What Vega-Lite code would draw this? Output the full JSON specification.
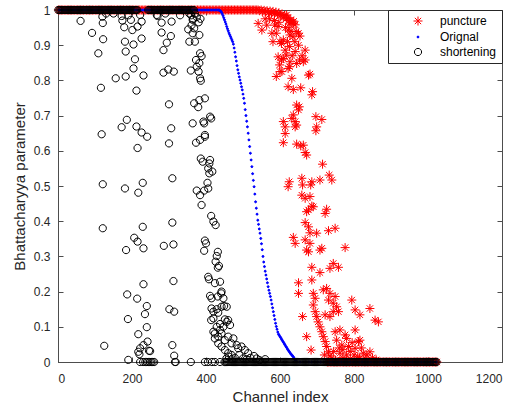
{
"$schema":"https://vega.github.io/schema/vega-lite/v6.json",
"width":444,"height":352,
"autosize":{"type":"none"},
"padding":{"left":58,"top":10,"right":24,"bottom":45},
"config":{
 "view":{"stroke":"#4d4d4d","strokeWidth":1},
 "axis":{"domainColor":"#4d4d4d","tickColor":"#4d4d4d","labelColor":"#262626","titleColor":"#262626","labelFont":"Liberation Sans","titleFont":"Liberation Sans","labelFontSize":12,"titleFontSize":15,"titleFontWeight":"normal","grid":false,"tickSize":-5},
 "legend":{"orient":"top-right","offset":0,"strokeColor":"#262626","fillColor":"white","padding":5,"rowPadding":3,"symbolOffset":19,"labelOffset":16,"labelFontSize":12,"labelFont":"Liberation Sans","labelColor":"#000000","symbolStrokeWidth":1,"symbolSize":81}
},
"datasets":{
"puncture":[
{"x":1,"y":1},{"x":5,"y":1},{"x":9,"y":1},{"x":13,"y":1},{"x":17,"y":1},{"x":21,"y":1},{"x":25,"y":1},{"x":29,"y":1},{"x":33,"y":1},{"x":37,"y":1},{"x":41,"y":1},{"x":45,"y":1},{"x":49,"y":1},{"x":53,"y":1},{"x":57,"y":1},{"x":61,"y":1},{"x":65,"y":1},{"x":69,"y":1},{"x":73,"y":1},{"x":77,"y":1},{"x":81,"y":1},{"x":85,"y":1},{"x":89,"y":1},{"x":93,"y":1},{"x":97,"y":1},{"x":101,"y":1},{"x":105,"y":1},{"x":109,"y":1},{"x":113,"y":1},{"x":117,"y":1},{"x":121,"y":1},{"x":125,"y":1},{"x":129,"y":1},{"x":133,"y":1},{"x":137,"y":1},{"x":141,"y":1},{"x":145,"y":1},{"x":149,"y":1},{"x":153,"y":1},{"x":157,"y":1},{"x":161,"y":1},{"x":165,"y":1},{"x":169,"y":1},{"x":173,"y":1},{"x":177,"y":1},{"x":181,"y":1},{"x":185,"y":1},{"x":189,"y":1},{"x":193,"y":1},{"x":197,"y":1},{"x":201,"y":1},{"x":205,"y":1},{"x":209,"y":1},{"x":213,"y":1},{"x":217,"y":1},{"x":221,"y":1},{"x":225,"y":1},{"x":229,"y":1},{"x":233,"y":1},{"x":237,"y":1},{"x":241,"y":1},{"x":245,"y":1},{"x":249,"y":1},{"x":253,"y":1},{"x":257,"y":1},{"x":261,"y":1},{"x":265,"y":1},{"x":269,"y":1},{"x":273,"y":1},{"x":277,"y":1},{"x":281,"y":1},{"x":285,"y":1},{"x":289,"y":1},{"x":293,"y":1},{"x":297,"y":1},{"x":301,"y":1},{"x":305,"y":1},{"x":309,"y":1},{"x":313,"y":1},{"x":317,"y":1},{"x":321,"y":1},{"x":325,"y":1},{"x":329,"y":1},{"x":333,"y":1},{"x":337,"y":1},{"x":341,"y":1},{"x":345,"y":1},{"x":349,"y":1},{"x":353,"y":1},{"x":357,"y":1},{"x":361,"y":1},{"x":365,"y":1},{"x":369,"y":1},{"x":373,"y":1},{"x":377,"y":1},{"x":381,"y":1},{"x":385,"y":1},{"x":389,"y":1},{"x":393,"y":1},{"x":397,"y":1},{"x":401,"y":1},{"x":405,"y":1},{"x":409,"y":1},{"x":413,"y":1},{"x":417,"y":1},{"x":421,"y":1},{"x":425,"y":1},{"x":429,"y":1},{"x":433,"y":1},{"x":437,"y":1},{"x":441,"y":1},{"x":445,"y":1},{"x":449,"y":1},{"x":453,"y":1},{"x":457,"y":1},{"x":461,"y":1},{"x":465,"y":1},{"x":469,"y":1},{"x":473,"y":1},{"x":477,"y":1},{"x":481,"y":1},{"x":485,"y":1},{"x":489,"y":1},{"x":493,"y":1},{"x":497,"y":1},{"x":501,"y":1},{"x":505,"y":1},{"x":509,"y":1},{"x":513,"y":1},{"x":517,"y":1},{"x":521,"y":1},{"x":525,"y":1},{"x":529,"y":1},{"x":533,"y":1},{"x":537,"y":1},
{"x":541,"y":1},{"x":545,"y":0.998},{"x":549,"y":1},{"x":553,"y":0.996},{"x":557,"y":0.999},{"x":561,"y":0.995},{"x":565,"y":0.998},{"x":569,"y":0.993},{"x":573,"y":0.997},{"x":577,"y":0.992},{"x":581,"y":0.996},{"x":585,"y":0.99},{"x":589,"y":0.994},{"x":593,"y":0.988},{"x":597,"y":0.992},{"x":601,"y":0.985},{"x":605,"y":0.988},{"x":609,"y":0.98},{"x":613,"y":0.984},{"x":617,"y":0.975},{"x":621,"y":0.978},{"x":625,"y":0.97},{"x":629,"y":0.972},{"x":633,"y":0.965},{"x":637,"y":0.968},{"x":641,"y":0.958},
{"x":541,"y":0.962},{"x":551,"y":0.943},{"x":560,"y":0.975},{"x":564,"y":0.957},{"x":572,"y":0.975},{"x":578,"y":0.934},{"x":585,"y":0.97},{"x":586,"y":0.957},{"x":590,"y":0.934},{"x":595,"y":0.953},{"x":597,"y":0.965},{"x":581,"y":0.91},{"x":600,"y":0.91},{"x":604,"y":0.905},{"x":595,"y":0.867},{"x":604,"y":0.858},{"x":599,"y":0.844},{"x":590,"y":0.811},{"x":600,"y":0.825},
{"x":618,"y":0.986},{"x":636,"y":0.962},{"x":650,"y":0.934},{"x":654,"y":0.926},{"x":627,"y":0.929},{"x":609,"y":0.915},{"x":668,"y":0.886},{"x":641,"y":0.882},{"x":614,"y":0.886},{"x":609,"y":0.862},{"x":627,"y":0.853},{"x":645,"y":0.848},{"x":663,"y":0.853},{"x":668,"y":0.858},{"x":622,"y":0.834},{"x":605,"y":0.825},{"x":677,"y":0.815},{"x":681,"y":0.818},{"x":632,"y":0.806},{"x":622,"y":0.782},{"x":636,"y":0.774},{"x":656,"y":0.779},{"x":688,"y":0.768},{"x":686,"y":0.759},{"x":645,"y":0.73},{"x":652,"y":0.725},{"x":650,"y":0.716},{"x":636,"y":0.702},{"x":632,"y":0.692},{"x":641,"y":0.683},{"x":609,"y":0.683},{"x":614,"y":0.668},{"x":641,"y":0.668},{"x":645,"y":0.673},{"x":697,"y":0.697},{"x":713,"y":0.689},{"x":699,"y":0.668},{"x":697,"y":0.657},{"x":614,"y":0.649},{"x":609,"y":0.623},{"x":645,"y":0.619},{"x":656,"y":0.614},{"x":663,"y":0.616},{"x":668,"y":0.595},{"x":672,"y":0.588},{"x":715,"y":0.562},{"x":733,"y":0.531},{"x":740,"y":0.517},{"x":708,"y":0.517},{"x":686,"y":0.512},{"x":683,"y":0.503},{"x":659,"y":0.522},{"x":661,"y":0.503},{"x":625,"y":0.512},{"x":622,"y":0.498},
{"x":625,"y":0.96},{"x":615,"y":0.95},{"x":630,"y":0.94},{"x":620,"y":0.91},{"x":640,"y":0.91},{"x":650,"y":0.9},{"x":660,"y":0.87},{"x":633,"y":0.87},{"x":622,"y":0.943},{"x":644,"y":0.939},{"x":635,"y":0.924},{"x":626,"y":0.896},{"x":617,"y":0.872},{"x":653,"y":0.858},{"x":626,"y":0.839},
{"x":659,"y":0.474},{"x":668,"y":0.465},{"x":681,"y":0.47},{"x":686,"y":0.443},{"x":677,"y":0.432},{"x":672,"y":0.427},{"x":690,"y":0.441},{"x":726,"y":0.434},{"x":722,"y":0.422},{"x":668,"y":0.396},{"x":677,"y":0.384},{"x":681,"y":0.367},{"x":699,"y":0.366},{"x":731,"y":0.373},{"x":749,"y":0.38},{"x":636,"y":0.354},{"x":641,"y":0.337},{"x":668,"y":0.347},{"x":672,"y":0.318},{"x":677,"y":0.313},{"x":681,"y":0.337},{"x":708,"y":0.318},{"x":713,"y":0.323},{"x":776,"y":0.325},{"x":686,"y":0.269},{"x":708,"y":0.254},{"x":735,"y":0.266},{"x":744,"y":0.28},{"x":758,"y":0.269},{"x":650,"y":0.225},{"x":650,"y":0.195},{"x":686,"y":0.233},{"x":690,"y":0.195},{"x":695,"y":0.181},{"x":717,"y":0.205},{"x":726,"y":0.209},{"x":735,"y":0.195},{"x":749,"y":0.186},{"x":794,"y":0.176},{"x":690,"y":0.162},{"x":695,"y":0.143},{"x":699,"y":0.129},{"x":703,"y":0.114},{"x":708,"y":0.1},{"x":713,"y":0.086},{"x":717,"y":0.072},{"x":722,"y":0.058},{"x":726,"y":0.044},{"x":731,"y":0.029},{"x":735,"y":0.017},{"x":661,"y":0.129},{"x":722,"y":0.134},{"x":735,"y":0.129},{"x":744,"y":0.143},{"x":753,"y":0.157},{"x":758,"y":0.143},{"x":731,"y":0.176},{"x":744,"y":0.167},{"x":672,"y":0.072},{"x":684,"y":0.034},{"x":749,"y":0.086},{"x":762,"y":0.091},{"x":776,"y":0.077},{"x":780,"y":0.067},{"x":803,"y":0.091},{"x":812,"y":0.058},{"x":816,"y":0.062},{"x":753,"y":0.062},{"x":767,"y":0.048},{"x":785,"y":0.044},{"x":803,"y":0.039},{"x":825,"y":0.025},{"x":843,"y":0.029},{"x":762,"y":0.025},{"x":780,"y":0.02},{"x":803,"y":0.148},{"x":816,"y":0.134},{"x":843,"y":0.152},{"x":857,"y":0.119},{"x":866,"y":0.114},
{"x":740,"y":0.01},{"x":750,"y":0.005},{"x":770,"y":0.012},{"x":790,"y":0.008},{"x":810,"y":0.015},{"x":830,"y":0.01},{"x":850,"y":0.012},{"x":860,"y":0.006},{"x":720,"y":0.02},{"x":745,"y":0.03},{"x":760,"y":0.04},{"x":790,"y":0.03},{"x":770,"y":0.035},{"x":795,"y":0.055},{"x":820,"y":0.04},{"x":835,"y":0.02},{"x":800,"y":0.02},{"x":815,"y":0.01},
{"x":728,"y":0},{"x":732,"y":0},{"x":736,"y":0},{"x":740,"y":0},{"x":744,"y":0},{"x":748,"y":0},{"x":752,"y":0},{"x":756,"y":0},{"x":760,"y":0},{"x":764,"y":0},{"x":768,"y":0},{"x":772,"y":0},{"x":776,"y":0},{"x":780,"y":0},{"x":784,"y":0},{"x":788,"y":0},{"x":792,"y":0},{"x":796,"y":0},{"x":800,"y":0},{"x":804,"y":0},{"x":808,"y":0},{"x":812,"y":0},{"x":816,"y":0},{"x":820,"y":0},{"x":824,"y":0},{"x":828,"y":0},{"x":832,"y":0},{"x":836,"y":0},{"x":840,"y":0},{"x":844,"y":0},{"x":848,"y":0},{"x":852,"y":0},{"x":856,"y":0},{"x":860,"y":0},{"x":864,"y":0},{"x":868,"y":0},{"x":872,"y":0},{"x":876,"y":0},{"x":880,"y":0},{"x":884,"y":0},{"x":888,"y":0},{"x":892,"y":0},{"x":896,"y":0},{"x":900,"y":0},{"x":904,"y":0},{"x":908,"y":0},{"x":912,"y":0},{"x":916,"y":0},{"x":920,"y":0},{"x":924,"y":0},{"x":928,"y":0},{"x":932,"y":0},{"x":936,"y":0},{"x":940,"y":0},{"x":944,"y":0},{"x":948,"y":0},{"x":952,"y":0},{"x":956,"y":0},{"x":960,"y":0},{"x":964,"y":0},{"x":968,"y":0},{"x":972,"y":0},{"x":976,"y":0},{"x":980,"y":0},{"x":984,"y":0},{"x":988,"y":0},{"x":992,"y":0},{"x":996,"y":0},{"x":1000,"y":0},{"x":1004,"y":0},{"x":1008,"y":0},{"x":1012,"y":0},{"x":1016,"y":0},{"x":1020,"y":0},{"x":1024,"y":0}
],
"orignal":[
{"x":3,"y":1},{"x":7,"y":1},{"x":11,"y":1},{"x":15,"y":1},{"x":19,"y":1},{"x":23,"y":1},{"x":27,"y":1},{"x":31,"y":1},{"x":35,"y":1},{"x":39,"y":1},{"x":43,"y":1},{"x":47,"y":1},{"x":51,"y":1},{"x":55,"y":1},{"x":59,"y":1},{"x":63,"y":1},{"x":67,"y":1},{"x":71,"y":1},{"x":75,"y":1},{"x":79,"y":1},{"x":83,"y":1},{"x":87,"y":1},{"x":91,"y":1},{"x":95,"y":1},{"x":99,"y":1},{"x":103,"y":1},{"x":107,"y":1},{"x":111,"y":1},{"x":115,"y":1},{"x":119,"y":1},{"x":123,"y":1},{"x":127,"y":1},{"x":131,"y":1},{"x":135,"y":1},{"x":139,"y":1},{"x":143,"y":1},{"x":147,"y":1},{"x":151,"y":1},{"x":155,"y":1},{"x":159,"y":1},{"x":163,"y":1},{"x":167,"y":1},{"x":171,"y":1},{"x":175,"y":1},{"x":179,"y":1},{"x":183,"y":1},{"x":187,"y":1},{"x":191,"y":1},{"x":195,"y":1},{"x":199,"y":1},{"x":203,"y":1},{"x":207,"y":1},{"x":211,"y":1},{"x":215,"y":1},{"x":219,"y":1},{"x":223,"y":1},{"x":227,"y":1},{"x":231,"y":1},{"x":235,"y":1},{"x":239,"y":1},{"x":243,"y":1},{"x":247,"y":1},{"x":251,"y":1},{"x":255,"y":1},{"x":259,"y":1},{"x":263,"y":1},{"x":267,"y":1},{"x":271,"y":1},{"x":275,"y":1},{"x":279,"y":1},{"x":283,"y":1},{"x":287,"y":1},{"x":291,"y":1},{"x":295,"y":1},{"x":299,"y":1},{"x":303,"y":1},{"x":307,"y":1},{"x":311,"y":1},{"x":315,"y":1},{"x":319,"y":1},{"x":323,"y":1},{"x":327,"y":1},{"x":331,"y":1},{"x":335,"y":1},{"x":339,"y":1},{"x":343,"y":1},{"x":347,"y":1},{"x":351,"y":1},{"x":355,"y":1},{"x":359,"y":1},{"x":363,"y":1},{"x":367,"y":1},{"x":371,"y":1},{"x":375,"y":1},{"x":379,"y":1},{"x":383,"y":1},{"x":387,"y":1},{"x":391,"y":1},{"x":395,"y":1},{"x":399,"y":1},{"x":403,"y":1},{"x":407,"y":1},{"x":411,"y":1},{"x":415,"y":1},{"x":419,"y":1},{"x":423,"y":1},{"x":427,"y":1},{"x":431,"y":1},{"x":435,"y":1},
{"x":436,"y":0.999},{"x":438,"y":0.998},{"x":440,"y":0.996},{"x":442,"y":0.993},{"x":444,"y":0.989},{"x":446,"y":0.984},{"x":448,"y":0.978},{"x":450,"y":0.972},{"x":452,"y":0.966},{"x":454,"y":0.96},{"x":456,"y":0.953},{"x":458,"y":0.947},{"x":460,"y":0.941},{"x":462,"y":0.935},{"x":464,"y":0.93},{"x":466,"y":0.925},{"x":468,"y":0.92},{"x":470,"y":0.915},{"x":472,"y":0.91},{"x":474,"y":0.903},{"x":476,"y":0.892},{"x":478,"y":0.88},{"x":480,"y":0.867},{"x":482,"y":0.855},{"x":484,"y":0.842},{"x":486,"y":0.83},{"x":488,"y":0.82},{"x":490,"y":0.81},{"x":492,"y":0.801},{"x":494,"y":0.792},{"x":496,"y":0.782},{"x":498,"y":0.773},{"x":500,"y":0.761},{"x":502,"y":0.749},{"x":504,"y":0.735},{"x":506,"y":0.717},{"x":508,"y":0.7},{"x":510,"y":0.684},{"x":512,"y":0.668},{"x":514,"y":0.65},{"x":516,"y":0.631},{"x":518,"y":0.612},{"x":520,"y":0.593},{"x":522,"y":0.574},{"x":524,"y":0.555},{"x":526,"y":0.535},{"x":528,"y":0.516},{"x":530,"y":0.498},{"x":532,"y":0.477},{"x":534,"y":0.455},{"x":536,"y":0.437},{"x":538,"y":0.42},{"x":540,"y":0.403},{"x":542,"y":0.391},{"x":544,"y":0.378},{"x":546,"y":0.366},{"x":548,"y":0.351},{"x":550,"y":0.336},{"x":552,"y":0.319},{"x":554,"y":0.3},{"x":556,"y":0.284},{"x":558,"y":0.271},{"x":560,"y":0.258},{"x":562,"y":0.247},{"x":564,"y":0.236},{"x":566,"y":0.225},{"x":568,"y":0.214},{"x":570,"y":0.204},{"x":572,"y":0.195},{"x":574,"y":0.186},{"x":576,"y":0.176},{"x":578,"y":0.165},{"x":580,"y":0.154},{"x":582,"y":0.143},{"x":584,"y":0.132},{"x":586,"y":0.121},{"x":588,"y":0.11},{"x":590,"y":0.101},{"x":592,"y":0.093},{"x":594,"y":0.085},{"x":596,"y":0.079},{"x":598,"y":0.076},{"x":600,"y":0.072},{"x":602,"y":0.069},{"x":604,"y":0.065},{"x":606,"y":0.062},{"x":608,"y":0.058},{"x":610,"y":0.055},{"x":612,"y":0.051},{"x":614,"y":0.048},{"x":616,"y":0.044},{"x":618,"y":0.041},{"x":620,"y":0.037},{"x":622,"y":0.034},{"x":624,"y":0.031},{"x":626,"y":0.028},{"x":628,"y":0.025},{"x":630,"y":0.022},{"x":632,"y":0.02},{"x":634,"y":0.017},{"x":636,"y":0.015},{"x":638,"y":0.011},{"x":640,"y":0.008},{"x":642,"y":0.005},{"x":644,"y":0.002},{"x":646,"y":0},
{"x":654,"y":0},{"x":662,"y":0},{"x":670,"y":0},{"x":678,"y":0},{"x":686,"y":0},{"x":694,"y":0},{"x":702,"y":0},{"x":710,"y":0},{"x":718,"y":0},{"x":726,"y":0},{"x":734,"y":0},{"x":742,"y":0},{"x":750,"y":0},{"x":758,"y":0},{"x":766,"y":0},{"x":774,"y":0},{"x":782,"y":0},{"x":790,"y":0},{"x":798,"y":0},{"x":806,"y":0},{"x":814,"y":0},{"x":822,"y":0},{"x":830,"y":0},{"x":838,"y":0},{"x":846,"y":0},{"x":854,"y":0},{"x":862,"y":0},{"x":870,"y":0},{"x":878,"y":0},{"x":886,"y":0},{"x":894,"y":0},{"x":902,"y":0},{"x":910,"y":0},{"x":918,"y":0},{"x":926,"y":0},{"x":934,"y":0},{"x":942,"y":0},{"x":950,"y":0},{"x":958,"y":0},{"x":966,"y":0},{"x":974,"y":0},{"x":982,"y":0},{"x":990,"y":0},{"x":998,"y":0},{"x":1006,"y":0},{"x":1014,"y":0},{"x":1022,"y":0}
],
"shortening":[
{"x":1,"y":1},{"x":4,"y":1},{"x":7,"y":1},{"x":10,"y":1},{"x":13,"y":1},{"x":16,"y":1},{"x":19,"y":1},{"x":22,"y":1},{"x":25,"y":1},{"x":28,"y":1},{"x":31,"y":1},{"x":34,"y":1},{"x":37,"y":1},{"x":40,"y":1},{"x":43,"y":1},{"x":46,"y":1},{"x":49,"y":1},{"x":52,"y":1},{"x":55,"y":1},{"x":58,"y":1},{"x":61,"y":1},{"x":64,"y":1},{"x":67,"y":1},{"x":70,"y":1},{"x":73,"y":1},{"x":76,"y":1},{"x":79,"y":1},{"x":82,"y":1},{"x":85,"y":1},{"x":88,"y":1},{"x":91,"y":1},{"x":94,"y":1},{"x":97,"y":1},{"x":100,"y":1},{"x":103,"y":1},{"x":106,"y":1},{"x":109,"y":1},{"x":112,"y":1},{"x":115,"y":1},{"x":118,"y":1},{"x":121,"y":1},{"x":124,"y":1},{"x":127,"y":1},{"x":130,"y":1},{"x":133,"y":1},{"x":136,"y":1},{"x":139,"y":1},{"x":142,"y":1},{"x":145,"y":1},{"x":148,"y":1},{"x":151,"y":1},{"x":154,"y":1},{"x":157,"y":1},{"x":160,"y":1},{"x":163,"y":1},{"x":166,"y":1},{"x":169,"y":1},{"x":172,"y":1},{"x":175,"y":1},{"x":178,"y":1},{"x":181,"y":1},{"x":184,"y":1},{"x":187,"y":1},{"x":190,"y":1},{"x":193,"y":1},{"x":196,"y":1},{"x":199,"y":1},{"x":202,"y":1},{"x":205,"y":1},{"x":208,"y":1},{"x":211,"y":1},{"x":214,"y":1},
{"x":244,"y":1},{"x":247,"y":1},{"x":250,"y":1},{"x":253,"y":1},{"x":256,"y":1},{"x":259,"y":1},{"x":262,"y":1},{"x":265,"y":1},{"x":268,"y":1},{"x":271,"y":1},{"x":274,"y":1},{"x":277,"y":1},{"x":280,"y":1},{"x":283,"y":1},{"x":286,"y":1},{"x":289,"y":1},{"x":292,"y":1},{"x":295,"y":1},{"x":298,"y":1},{"x":301,"y":1},{"x":304,"y":1},{"x":307,"y":1},{"x":310,"y":1},{"x":313,"y":1},{"x":316,"y":1},{"x":319,"y":1},{"x":322,"y":1},{"x":325,"y":1},{"x":328,"y":1},{"x":331,"y":1},{"x":334,"y":1},{"x":337,"y":1},{"x":340,"y":1},{"x":343,"y":1},{"x":346,"y":1},{"x":349,"y":1},{"x":352,"y":1},{"x":355,"y":1},{"x":358,"y":1},{"x":361,"y":1},{"x":364,"y":1},{"x":367,"y":1},
{"x":355,"y":0.99},{"x":360,"y":0.985},{"x":365,"y":0.975},{"x":370,"y":0.99},{"x":375,"y":0.98},{"x":380,"y":0.965},{"x":385,"y":0.975},
{"x":120,"y":0.981},{"x":172,"y":0.983},{"x":222,"y":0.986},{"x":267,"y":0.986},{"x":130,"y":0.99},{"x":150,"y":0.99},{"x":190,"y":0.985},{"x":290,"y":0.99},{"x":330,"y":0.985},
{"x":61,"y":0.969},{"x":92,"y":0.935},{"x":121,"y":0.963},{"x":122,"y":0.917},{"x":109,"y":0.877},{"x":116,"y":0.779},{"x":118,"y":0.647},{"x":121,"y":0.505},{"x":121,"y":0.38},{"x":125,"y":0.046},
{"x":174,"y":0.97},{"x":197,"y":0.972},{"x":179,"y":0.951},{"x":201,"y":0.943},{"x":215,"y":0.953},{"x":226,"y":0.967},{"x":181,"y":0.91},{"x":204,"y":0.902},{"x":226,"y":0.919},{"x":183,"y":0.882},{"x":208,"y":0.86},{"x":204,"y":0.834},{"x":156,"y":0.806},{"x":183,"y":0.811},{"x":231,"y":0.814},{"x":212,"y":0.771},{"x":172,"y":0.667},{"x":186,"y":0.688},{"x":212,"y":0.669},{"x":226,"y":0.652},{"x":241,"y":0.64},{"x":215,"y":0.608},{"x":181,"y":0.493},{"x":229,"y":0.509},{"x":217,"y":0.481},
{"x":269,"y":0.983},{"x":280,"y":0.964},{"x":307,"y":0.967},{"x":280,"y":0.936},{"x":305,"y":0.926},{"x":294,"y":0.907},{"x":285,"y":0.886},{"x":285,"y":0.822},{"x":298,"y":0.831},{"x":313,"y":0.825},{"x":300,"y":0.732},{"x":306,"y":0.664},{"x":300,"y":0.621},{"x":309,"y":0.522},
{"x":352,"y":0.945},{"x":364,"y":0.934},{"x":368,"y":0.948},{"x":382,"y":0.929},{"x":355,"y":0.91},{"x":370,"y":0.91},{"x":361,"y":0.957},{"x":364,"y":0.972},{"x":384,"y":0.877},{"x":388,"y":0.869},{"x":373,"y":0.858},{"x":382,"y":0.849},{"x":375,"y":0.839},{"x":359,"y":0.828},{"x":380,"y":0.825},{"x":384,"y":0.806},{"x":386,"y":0.799},{"x":368,"y":0.735},{"x":382,"y":0.744},{"x":397,"y":0.749},{"x":379,"y":0.724},{"x":364,"y":0.678},{"x":393,"y":0.683},{"x":414,"y":0.692},{"x":395,"y":0.678},{"x":373,"y":0.623},{"x":384,"y":0.631},{"x":397,"y":0.64},{"x":386,"y":0.578},{"x":411,"y":0.574},{"x":391,"y":0.569},{"x":409,"y":0.564},{"x":406,"y":0.55},{"x":417,"y":0.541},{"x":409,"y":0.536},{"x":375,"y":0.487},{"x":384,"y":0.474},{"x":395,"y":0.487},{"x":404,"y":0.509},{"x":411,"y":0.697},{"x":397,"y":0.645},
{"x":229,"y":0.384},{"x":206,"y":0.353},{"x":184,"y":0.318},{"x":215,"y":0.342},{"x":231,"y":0.323},{"x":187,"y":0.192},{"x":231,"y":0.221},{"x":214,"y":0.18},{"x":240,"y":0.159},{"x":235,"y":0.136},{"x":189,"y":0.122},{"x":240,"y":0.099},{"x":217,"y":0.079},{"x":242,"y":0.058},{"x":222,"y":0.039},{"x":231,"y":0.048},{"x":249,"y":0.031},{"x":220,"y":0.022},{"x":190,"y":0.006},{"x":246,"y":0.032},{"x":217,"y":0.029},
{"x":222,"y":0},{"x":230,"y":0},{"x":236,"y":0},{"x":240,"y":0},{"x":244,"y":0},{"x":248,"y":0},{"x":252,"y":0},{"x":256,"y":0},{"x":260,"y":0},
{"x":309,"y":0.396},{"x":312,"y":0.334},{"x":286,"y":0.33},{"x":312,"y":0.23},{"x":301,"y":0.15},{"x":314,"y":0.143},{"x":309,"y":0.048},{"x":314,"y":0.018},{"x":316,"y":0},{"x":318,"y":0},{"x":359,"y":0},
{"x":406,"y":0.493},{"x":388,"y":0.446},{"x":414,"y":0.415},{"x":420,"y":0.399},{"x":426,"y":0.389},{"x":397,"y":0.345},{"x":400,"y":0.337},{"x":395,"y":0.316},{"x":432,"y":0.313},{"x":429,"y":0.301},{"x":426,"y":0.285},{"x":435,"y":0.273},{"x":432,"y":0.268},{"x":406,"y":0.242},{"x":408,"y":0.235},{"x":424,"y":0.224},{"x":438,"y":0.228},{"x":442,"y":0.2},{"x":411,"y":0.188},{"x":415,"y":0.181},{"x":432,"y":0.186},{"x":441,"y":0.195},{"x":447,"y":0.181},{"x":456,"y":0.157},{"x":449,"y":0.159},{"x":415,"y":0.152},{"x":420,"y":0.143},{"x":429,"y":0.15},{"x":433,"y":0.14},{"x":442,"y":0.157},{"x":451,"y":0.121},{"x":456,"y":0.114},{"x":460,"y":0.119},{"x":465,"y":0.105},{"x":447,"y":0.1},{"x":438,"y":0.108},{"x":420,"y":0.124},{"x":414,"y":0.119},{"x":424,"y":0.081},{"x":433,"y":0.072},{"x":442,"y":0.081},{"x":451,"y":0.062},{"x":460,"y":0.072},{"x":474,"y":0.067},{"x":469,"y":0.053},{"x":483,"y":0.048},{"x":487,"y":0.039},{"x":496,"y":0.044},{"x":505,"y":0.034},{"x":514,"y":0.025},{"x":530,"y":0.017},{"x":537,"y":0.01},{"x":429,"y":0.1},{"x":438,"y":0.091},{"x":420,"y":0.086},{"x":424,"y":0.067},{"x":433,"y":0.053},{"x":442,"y":0.044},{"x":451,"y":0.034},{"x":460,"y":0.025},{"x":469,"y":0.02},
{"x":455,"y":0.01},{"x":462,"y":0.015},{"x":470,"y":0.008},{"x":478,"y":0.012},{"x":490,"y":0.02},{"x":500,"y":0.01},{"x":510,"y":0.008},{"x":520,"y":0.012},{"x":545,"y":0.005},{"x":560,"y":0.008},
{"x":397,"y":0},{"x":405,"y":0},{"x":416,"y":0},{"x":424,"y":0},{"x":438,"y":0},
{"x":450,"y":0},{"x":453,"y":0},{"x":456,"y":0},{"x":459,"y":0},{"x":462,"y":0},{"x":465,"y":0},{"x":468,"y":0},{"x":471,"y":0},{"x":474,"y":0},{"x":477,"y":0},{"x":480,"y":0},{"x":483,"y":0},{"x":486,"y":0},{"x":489,"y":0},{"x":492,"y":0},{"x":495,"y":0},{"x":498,"y":0},{"x":501,"y":0},{"x":504,"y":0},{"x":507,"y":0},{"x":510,"y":0},{"x":513,"y":0},{"x":516,"y":0},{"x":519,"y":0},{"x":522,"y":0},{"x":525,"y":0},{"x":528,"y":0},{"x":531,"y":0},{"x":534,"y":0},{"x":537,"y":0},{"x":540,"y":0},{"x":543,"y":0},{"x":546,"y":0},{"x":549,"y":0},{"x":552,"y":0},{"x":555,"y":0},{"x":558,"y":0},{"x":561,"y":0},{"x":564,"y":0},{"x":567,"y":0},{"x":570,"y":0},{"x":573,"y":0},{"x":576,"y":0},{"x":579,"y":0},{"x":582,"y":0},{"x":585,"y":0},{"x":588,"y":0},{"x":591,"y":0},{"x":594,"y":0},{"x":597,"y":0},{"x":600,"y":0},{"x":603,"y":0},{"x":606,"y":0},{"x":609,"y":0},{"x":612,"y":0},{"x":615,"y":0},{"x":618,"y":0},{"x":621,"y":0},{"x":624,"y":0},{"x":627,"y":0},{"x":630,"y":0},{"x":633,"y":0},{"x":636,"y":0},{"x":639,"y":0},{"x":642,"y":0},{"x":645,"y":0},{"x":648,"y":0},{"x":651,"y":0},{"x":654,"y":0},{"x":657,"y":0},{"x":660,"y":0},{"x":663,"y":0},{"x":666,"y":0},{"x":669,"y":0},{"x":672,"y":0},{"x":675,"y":0},{"x":678,"y":0},{"x":681,"y":0},{"x":684,"y":0},{"x":687,"y":0},{"x":690,"y":0},{"x":693,"y":0},{"x":696,"y":0},{"x":699,"y":0},{"x":702,"y":0},{"x":705,"y":0},{"x":708,"y":0},{"x":711,"y":0},{"x":714,"y":0},{"x":717,"y":0},{"x":720,"y":0},{"x":723,"y":0},{"x":726,"y":0},{"x":729,"y":0},{"x":732,"y":0},{"x":735,"y":0},{"x":738,"y":0},{"x":741,"y":0},{"x":744,"y":0},{"x":747,"y":0},{"x":750,"y":0},{"x":753,"y":0},{"x":756,"y":0},{"x":759,"y":0},{"x":762,"y":0},{"x":765,"y":0},{"x":768,"y":0},{"x":771,"y":0},{"x":774,"y":0},{"x":777,"y":0},{"x":780,"y":0},{"x":783,"y":0},{"x":786,"y":0},{"x":789,"y":0},{"x":792,"y":0},{"x":795,"y":0},{"x":798,"y":0},{"x":801,"y":0},{"x":804,"y":0},{"x":807,"y":0},{"x":810,"y":0},{"x":813,"y":0},{"x":816,"y":0},{"x":819,"y":0},{"x":822,"y":0},{"x":825,"y":0},{"x":828,"y":0},{"x":831,"y":0},{"x":834,"y":0},{"x":837,"y":0},{"x":840,"y":0},{"x":843,"y":0},{"x":846,"y":0},{"x":849,"y":0},{"x":852,"y":0},{"x":855,"y":0},{"x":858,"y":0},{"x":861,"y":0},{"x":864,"y":0},{"x":867,"y":0},{"x":870,"y":0},{"x":873,"y":0},{"x":876,"y":0},{"x":879,"y":0},{"x":882,"y":0},{"x":885,"y":0},{"x":888,"y":0},{"x":891,"y":0},{"x":894,"y":0},{"x":897,"y":0},{"x":900,"y":0},{"x":903,"y":0},{"x":906,"y":0},{"x":909,"y":0},{"x":912,"y":0},{"x":915,"y":0},{"x":918,"y":0},{"x":921,"y":0},{"x":924,"y":0},{"x":927,"y":0},{"x":930,"y":0},{"x":933,"y":0},{"x":936,"y":0},{"x":939,"y":0},{"x":942,"y":0},{"x":945,"y":0},{"x":948,"y":0},{"x":951,"y":0},{"x":954,"y":0},{"x":957,"y":0},{"x":960,"y":0},{"x":963,"y":0},{"x":966,"y":0},{"x":969,"y":0},{"x":972,"y":0},{"x":975,"y":0},{"x":978,"y":0},{"x":981,"y":0},{"x":984,"y":0},{"x":987,"y":0},{"x":990,"y":0},{"x":993,"y":0},{"x":996,"y":0},{"x":999,"y":0},{"x":1002,"y":0},{"x":1005,"y":0},{"x":1008,"y":0},{"x":1011,"y":0},{"x":1014,"y":0},{"x":1017,"y":0},{"x":1020,"y":0},{"x":1023,"y":0}
]
},
"resolve":{"axis":{"x":"independent","y":"independent"}},
"layer":[
{
 "data":{"name":"puncture"},
 "mark":{"type":"point","size":81,"strokeWidth":1,"opacity":1},
 "encoding":{
  "x":{"field":"x","type":"quantitative","scale":{"domain":[0,1200],"nice":false,"zero":false},"axis":{"values":[0,200,400,600,800,1000,1200],"format":"d","labelPadding":16,"title":"Channel index","titlePadding":5}},
  "y":{"field":"y","type":"quantitative","scale":{"domain":[0,1],"nice":false},"axis":{"values":[0,0.1,0.2,0.3,0.4,0.5,0.6,0.7,0.8,0.9,1],"format":".1~f","labelPadding":13,"title":"Bhattacharyya parameter","titlePadding":6}},
  "shape":{"datum":"puncture","type":"nominal","scale":{"domain":["puncture","Orignal","shortening"],"range":["M-1,0L1,0M0,-1L0,1M-0.7,-0.7L0.7,0.7M-0.7,0.7L0.7,-0.7","M0.22,0A0.22,0.22,0,1,1,-0.22,0A0.22,0.22,0,1,1,0.22,0Z","M0.8,0A0.8,0.8,0,1,1,-0.8,0A0.8,0.8,0,1,1,0.8,0Z"]},"legend":{"title":null}},
  "stroke":{"datum":"puncture","type":"nominal","scale":{"domain":["puncture","Orignal","shortening"],"range":["#ff0000","#0000ff","#000000"]},"legend":{"title":null}},
  "fill":{"datum":"puncture","type":"nominal","scale":{"domain":["puncture","Orignal","shortening"],"range":["transparent","#0000ff","transparent"]},"legend":{"title":null}}
 }
},
{
 "data":{"name":"orignal"},
 "mark":{"type":"point","size":81,"strokeWidth":1,"opacity":1},
 "encoding":{
  "x":{"field":"x","type":"quantitative","axis":{"orient":"top","values":[0,200,400,600,800,1000,1200],"labels":false,"title":null}},
  "y":{"field":"y","type":"quantitative","axis":{"orient":"right","values":[0,0.1,0.2,0.3,0.4,0.5,0.6,0.7,0.8,0.9,1],"labels":false,"title":null}},
  "shape":{"datum":"Orignal","type":"nominal"},
  "stroke":{"datum":"Orignal","type":"nominal"},
  "fill":{"datum":"Orignal","type":"nominal"}
 }
},
{
 "data":{"name":"shortening"},
 "mark":{"type":"point","size":81,"strokeWidth":1,"opacity":1},
 "encoding":{
  "x":{"field":"x","type":"quantitative","axis":null},
  "y":{"field":"y","type":"quantitative","axis":null},
  "shape":{"datum":"shortening","type":"nominal"},
  "stroke":{"datum":"shortening","type":"nominal"},
  "fill":{"datum":"shortening","type":"nominal"}
 }
}
]
}
